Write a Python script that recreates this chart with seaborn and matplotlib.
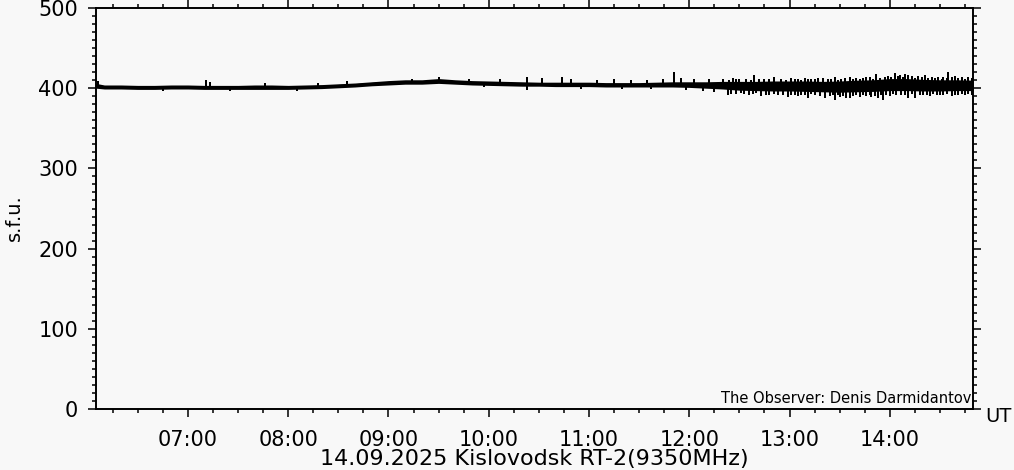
import matplotlib
matplotlib.use("Agg")
import matplotlib.pyplot as plt
import seaborn as sns
import pandas as pd
import numpy as np
from matplotlib.ticker import MultipleLocator, FuncFormatter

# ---- data (UT time, flux in s.f.u.) ----
times = ["06:05", "06:10", "06:20", "06:30", "06:40", "06:50", "07:00", "07:10", "07:20",
         "07:30", "07:40", "07:50", "08:00", "08:10", "08:20", "08:30", "08:40", "08:50",
         "09:00", "09:10", "09:20", "09:30", "09:40", "09:50", "10:00", "10:10", "10:20",
         "10:30", "10:40", "10:50", "11:00", "11:10", "11:20", "11:30", "11:40", "11:50",
         "12:00", "12:10", "12:20", "12:30", "12:40", "12:50", "13:00", "13:10", "13:20",
         "13:30", "13:40", "13:50", "14:00", "14:10", "14:20", "14:30", "14:40", "14:50"]
flux_lo = [400, 399, 399, 398.5, 398.5, 399, 399, 398.5, 398.5,
           398.5, 398.5, 398.5, 398.5, 399, 399.5, 400.5, 401.5, 403,
           404, 405, 405, 406, 405, 404, 403.5, 403, 402.5,
           402.5, 402, 402, 402, 401.5, 401.5, 401.5, 401.5, 401.5,
           401, 400, 399, 397.5, 397, 396.5, 396.5, 396, 395.5,
           395, 395.5, 396, 397, 397, 396.5, 396.5, 397, 397]
flux_hi = [406, 404, 404, 403.5, 403.5, 404, 404, 403.5, 403.5,
           403.5, 404, 404, 403.5, 404, 404.5, 405.5, 406.5, 408,
           409.5, 410.5, 410.5, 412, 410.5, 409.5, 409, 408.5, 408,
           407.5, 407.5, 407.5, 407.5, 407, 407, 407, 407.5, 408,
           408, 408, 408.5, 408.5, 408.5, 409, 409, 409, 408.5,
           409, 410, 410.5, 412, 412, 411, 410.5, 410.5, 410]

spike_times = ["06:06", "07:11", "07:13", "07:46", "08:18", "08:35", "09:14", "09:30", "09:48",
               "10:07", "10:23", "10:32", "10:44", "10:49", "11:05", "11:15", "11:25", "11:35",
               "11:44", "11:51", "11:55", "12:03", "12:12", "12:20", "12:24", "12:26", "12:28",
               "12:30", "12:34", "12:37", "12:39", "12:42", "12:45", "12:48", "12:51", "12:55",
               "12:58", "13:01", "13:03", "13:05", "13:07", "13:09", "13:11", "13:13", "13:15",
               "13:17", "13:20", "13:23", "13:25", "13:27", "13:29", "13:31", "13:33", "13:36",
               "13:38", "13:40", "13:42", "13:44", "13:46", "13:48", "13:50", "13:52", "13:54",
               "13:57", "13:59", "14:01", "14:03", "14:05", "14:06", "14:08", "14:09", "14:11",
               "14:13", "14:15", "14:17", "14:19", "14:21", "14:23", "14:25", "14:27", "14:29",
               "14:31", "14:32", "14:34", "14:35", "14:37", "14:39", "14:41", "14:43", "14:45",
               "14:47", "14:49"]
spike_tops = [409, 410, 408, 407, 406, 408.5, 411.5, 413.5, 412,
              411, 414, 413, 414, 412, 410, 411, 410, 410.5,
              411, 420, 413, 411, 412, 412, 410.5, 413, 411,
              412, 411.5, 410.5, 416, 411.5, 412, 411, 414.5, 412,
              410.5, 413, 412, 411.5, 410.5, 413, 411.5, 412, 411,
              412.5, 413, 411.5, 411, 414.5, 410.5, 412, 412.5, 414,
              411.5, 413, 411, 412.5, 413.5, 414, 412, 417.5, 413,
              414.5, 415, 414, 419, 415, 416, 414, 418, 416.5,
              415, 413, 415.5, 414.5, 416, 413, 414, 412.5, 413.5,
              412, 414, 413, 420, 414.5, 415, 413, 414, 412,
              413.5, 412.5]

dip_times = ["06:45", "07:25", "08:05", "09:57", "10:23", "10:55", "11:20", "11:37", "11:58",
             "12:08", "12:15", "12:23", "12:25", "12:28", "12:31", "12:33", "12:36", "12:38",
             "12:40", "12:43", "12:46", "12:48", "12:51", "12:53", "12:56", "12:59", "13:01",
             "13:03", "13:05", "13:07", "13:09", "13:11", "13:13", "13:15", "13:18", "13:21",
             "13:24", "13:26", "13:27", "13:29", "13:30", "13:32", "13:34", "13:36", "13:38",
             "13:40", "13:42", "13:44", "13:46", "13:48", "13:49", "13:51", "13:53", "13:55",
             "13:56", "13:58", "14:00", "14:02", "14:04", "14:07", "14:09", "14:11", "14:13",
             "14:15", "14:18", "14:20", "14:22", "14:24", "14:26", "14:28", "14:30", "14:32",
             "14:34", "14:37", "14:39", "14:41", "14:43", "14:45", "14:47", "14:49"]
dip_bottoms = [396.5, 396.5, 397, 402, 397.5, 399, 399, 398.5, 398,
               396, 395, 391, 393, 393, 394, 392.5, 392, 393,
               393.5, 390, 391, 392, 393, 391.5, 392, 389, 392,
               391.5, 390, 392, 391, 387.5, 392.5, 391, 390, 387.5,
               390, 391, 385, 392, 389.5, 390, 387.5, 388, 390,
               391.5, 389, 392, 390.5, 391, 389, 390.5, 387.5, 391,
               385, 392, 390, 392.5, 391, 392, 391, 388, 392.5,
               388, 391, 392, 391.5, 390.5, 393, 391.5, 392, 391,
               393, 390, 392, 391.5, 393, 392, 392.5, 391]

y_ticks = [0, 100, 200, 300, 400, 500]
x_hours = [7, 8, 9, 10, 11, 12, 13, 14]


def hrs(s):
    h, m = s.split(":")
    return int(h) + int(m) / 60.0


BG = "#f8f8f8"
sns.set_style("ticks")
plt.rcParams["font.family"] = ["DejaVu Sans"]
plt.rcParams["text.color"] = "black"
plt.rcParams["xtick.color"] = "black"
plt.rcParams["ytick.color"] = "black"
plt.rcParams["xtick.labelcolor"] = "black"
plt.rcParams["ytick.labelcolor"] = "black"

fig = plt.figure(figsize=(10.14, 4.70), dpi=100, facecolor=BG)
ax = fig.add_axes([96 / 1014, 1 - 409 / 470, (973 - 96) / 1014, (409 - 8) / 470])
ax.set_facecolor(BG)

df = pd.DataFrame({"t": [hrs(s) for s in times], "lo": flux_lo, "hi": flux_hi})
df["mid"] = (df["lo"] + df["hi"]) / 2

ax.fill_between(df["t"], df["lo"], df["hi"], color="black", lw=0)
sns.lineplot(data=df, x="t", y="mid", color="black", lw=1.2, ax=ax, legend=False)

st = np.array([hrs(s) for s in spike_times])
ax.vlines(st, np.interp(st, df["t"], df["mid"]), spike_tops, color="black", lw=1.3,
          antialiased=False)
dt = np.array([hrs(s) for s in dip_times])
ax.vlines(dt, dip_bottoms, np.interp(dt, df["t"], df["mid"]), color="black", lw=1.3,
          antialiased=False)

ax.set_xlim(hrs("06:05"), 14.83)
ax.set_ylim(y_ticks[0], y_ticks[-1])
ax.set_xticks(x_hours)
ax.xaxis.set_major_formatter(FuncFormatter(lambda v, p: f"{int(round(v)):02d}:00"))
ax.xaxis.set_minor_locator(MultipleLocator(0.25))
ax.set_yticks(y_ticks)
ax.yaxis.set_minor_locator(MultipleLocator(10))
ax.set_xlabel("")
ax.set_ylabel("")

for sp in ax.spines.values():
    sp.set_visible(True)
    sp.set_linewidth(1.4)
    sp.set_color("black")

ax.tick_params(which="both", direction="out", top=True, right=True,
               labeltop=False, labelright=False, color="black", width=1.1)
ax.tick_params(which="major", length=6, labelsize=15, pad=7, labelcolor="black")
ax.tick_params(which="minor", length=3)
ax.tick_params(axis="x", which="major", pad=9)

fig.text(14 / 1014, 1 - 218 / 470, "s.f.u.", rotation=90, ha="center", va="center",
         fontsize=14, color="black")
fig.text(534.5 / 1014, 1 / 470, "14.09.2025 Kislovodsk RT-2(9350MHz)",
         ha="center", va="bottom", fontsize=16, color="black")
fig.text(985 / 1014, 1 - 416 / 470, "UT", ha="left", va="center", fontsize=14, color="black")
fig.text(971 / 1014, 1 - 403 / 470, "The Observer: Denis Darmidantov",
         ha="right", va="baseline", fontsize=10.5, color="black")

fig.savefig("out.png", dpi=100, facecolor=BG)
